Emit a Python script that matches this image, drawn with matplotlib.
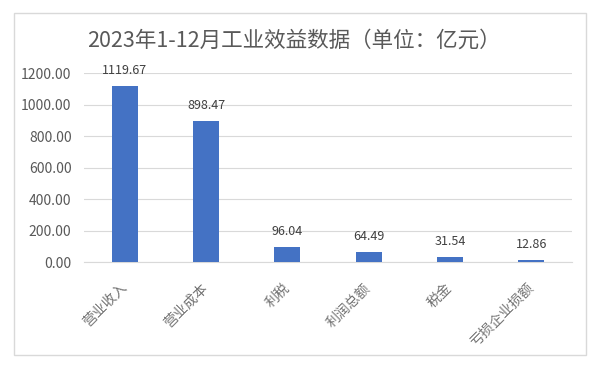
import matplotlib.pyplot as plt
from matplotlib.patches import Rectangle

plt.rcParams['font.family'] = ['Noto Sans CJK SC', 'DejaVu Sans']

categories = ['营业收入', '营业成本', '利税', '利润总额', '税金', '亏损企业损额']
values = [1119.67, 898.47, 96.04, 64.49, 31.54, 12.86]
yticks = [0, 200, 400, 600, 800, 1000, 1200]

fig = plt.figure(figsize=(6, 3.67), dpi=100)
ax = fig.add_axes([0.14, 0.286, 0.813, 0.515])

# outer chart border
fig.patches.append(Rectangle((14 / 600, 12 / 367), 572 / 600, 342 / 367,
                             transform=fig.transFigure, fill=False,
                             edgecolor='#d9d9d9', linewidth=1))

x = range(len(categories))
ax.bar(x, values, width=0.32, color='#4472c4', zorder=3)
for xi, v in zip(x, values):
    ax.text(xi, v + 55, f'{v:.2f}', ha='center', va='bottom',
            fontsize=9, color='#404040')

ax.set_ylim(0, 1200)
ax.set_xlim(-0.5, len(categories) - 0.5)
ax.set_yticks(yticks)
ax.set_yticklabels([f'{t:.2f}' for t in yticks], fontsize=10, color='#595959')
ax.set_xticks(list(x))
ax.set_xticklabels(categories, rotation=45, ha='right', va='center',
                   rotation_mode='anchor', fontsize=10, color='#737373')
ax.grid(axis='y', color='#d9d9d9', linewidth=0.8, zorder=0)
ax.tick_params(axis='y', length=0, pad=9)
ax.tick_params(axis='x', length=0, pad=17)
for s in ['top', 'right', 'left']:
    ax.spines[s].set_visible(False)
ax.spines['bottom'].set_color('#d9d9d9')

fig.text(0.49, 0.89, '2023年1-12月工业效益数据（单位：亿元）', ha='center',
         va='center', fontsize=15.5, color='#595959')

plt.savefig('out.png', dpi=100)
